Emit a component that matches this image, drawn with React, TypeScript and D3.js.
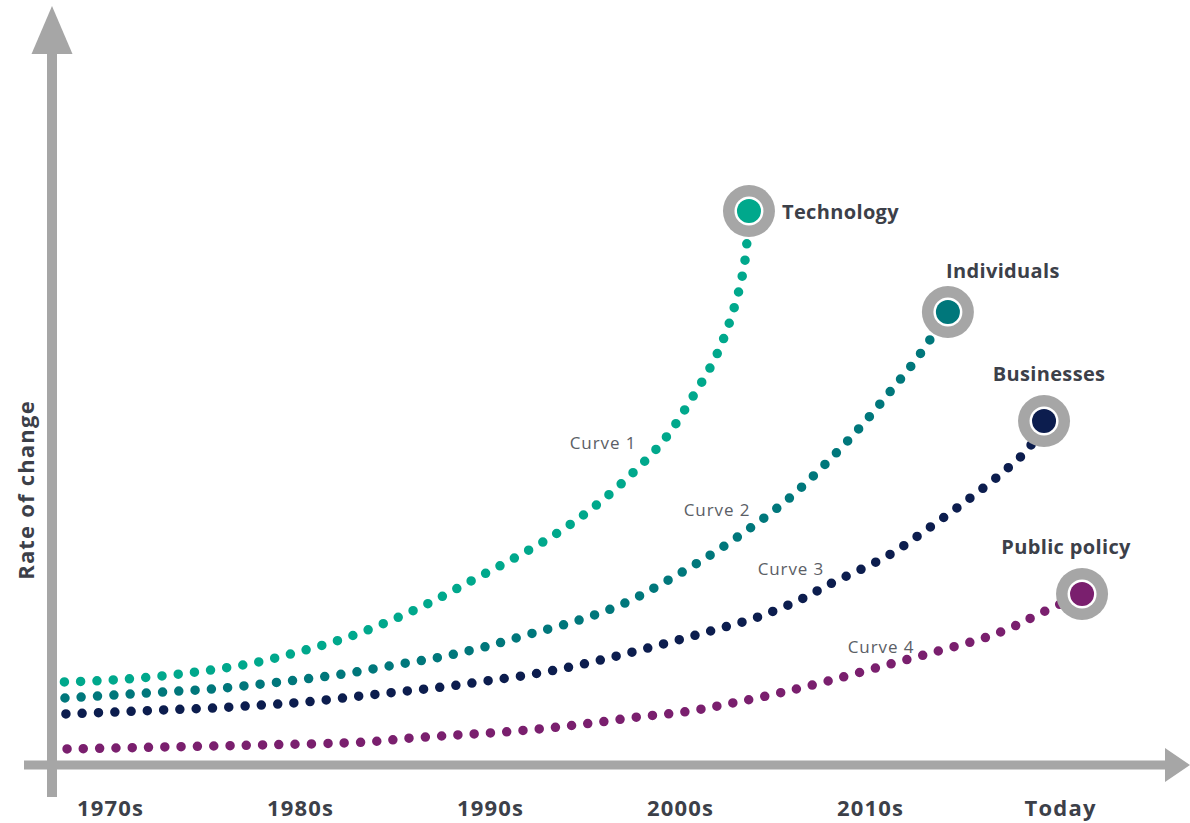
import React from "react";
import * as d3 from "d3";

// ---------- DATA ----------
const categories = ["1970s", "1980s", "1990s", "2000s", "2010s", "Today"];
const seriesNames = ["Technology", "Individuals", "Businesses", "Public policy"];
const curveLabels = ["Curve 1", "Curve 2", "Curve 3", "Curve 4"];

// x: decade index (1970s = 0 … Today = 5); y: rate of change (0–100)
const technology: [number, number][] = [
  [-0.24, 11.86], [0.01, 12.14], [0.27, 12.71], [0.53, 13.57], [0.78, 14.71],
  [1.01, 16.29], [1.24, 18.14], [1.46, 20.43], [1.68, 23.14], [1.9, 26.29],
  [2.11, 29.29], [2.33, 32.71], [2.54, 36.71], [2.74, 41.43], [2.92, 46.57],
  [3.06, 52.29], [3.19, 58.43], [3.28, 64.86], [3.34, 71.71], [3.363, 79.14],
];
const individuals: [number, number][] = [
  [-0.237, 9.57], [0.03, 10.0], [0.28, 10.43], [0.54, 10.86], [0.8, 11.57],
  [1.03, 12.29], [1.26, 13.14], [1.5, 14.29], [1.74, 15.43], [1.97, 16.86],
  [2.21, 18.71], [2.47, 20.71], [2.71, 23.14], [2.93, 26.29], [3.16, 30.0],
  [3.37, 33.86], [3.57, 38.0], [3.76, 42.86], [3.94, 48.0], [4.1, 53.14],
  [4.26, 58.57], [4.41, 64.71],
];
const businesses: [number, number][] = [
  [-0.232, 7.29], [0.03, 7.57], [0.28, 7.86], [0.54, 8.14], [0.8, 8.57],
  [1.03, 9.0], [1.27, 9.71], [1.51, 10.43], [1.75, 11.14], [1.98, 12.0],
  [2.23, 13.0], [2.47, 14.29], [2.71, 15.86], [2.95, 17.57], [3.18, 19.29],
  [3.41, 21.14], [3.64, 23.71], [3.79, 25.86], [4.1, 30.0], [4.31, 33.86],
  [4.52, 38.0], [4.72, 42.29], [4.84, 45.43], [4.916, 49.14],
];
const publicPolicy: [number, number][] = [
  [-0.226, 2.29], [0.03, 2.43], [0.28, 2.57], [0.54, 2.71], [0.8, 2.86],
  [1.35, 3.29], [1.59, 3.86], [1.83, 4.29], [2.07, 4.71], [2.31, 5.29],
  [2.54, 6.0], [2.78, 6.86], [3.02, 7.57], [3.25, 8.71], [3.5, 10.14],
  [3.76, 11.86], [4.05, 14.0], [4.34, 16.14], [4.6, 18.14], [4.75, 19.71],
  [4.9, 21.71], [5.116, 24.43],
];
const seriesData = [technology, individuals, businesses, publicPolicy];
// curve annotation anchors (data units)
const curveLabelAnchors: [number, number][] = [
  [2.595, 46.14], [3.195, 36.43], [3.584, 28.14], [4.058, 17.0],
];

// ---------- STYLE / LAYOUT ----------
const W = 1190;
const H = 823;
const colors = ["#00a88c", "#00777b", "#0c1d4e", "#7a1f6e"];
const axisGray = "#a6a6a6";
const textColor = "#3c4049";
const font = "'Open Sans', 'Noto Sans', sans-serif";
// name label offsets relative to end point (px) and anchor
const nameOffsets: { dx: number; dy: number; anchor: "start" | "middle" }[] = [
  { dx: 33, dy: 0, anchor: "start" },
  { dx: 55, dy: -42, anchor: "middle" },
  { dx: 5, dy: -48, anchor: "middle" },
  { dx: -16, dy: -47, anchor: "middle" },
];

export default function App() {
  const x = d3.scaleLinear().domain([0, 5]).range([110, 1060]);
  const y = d3.scaleLinear().domain([0, 100]).range([765, 65]);
  const line = d3
    .line<[number, number]>()
    .x((d) => x(d[0]))
    .y((d) => y(d[1]))
    .curve(d3.curveCatmullRom.alpha(0.5));

  const axisY = y(0);
  const yAxisX = 52;

  return (
    <svg
      width={W}
      height={H}
      style={{ position: "fixed", left: 0, top: 0, background: "#fff" }}
      fontFamily={font}
    >
      <rect width={W} height={H} fill="#fff" />
      {/* axes */}
      <rect x={yAxisX - 5} y={50} width={10} height={797 - 50} fill={axisGray} />
      <path d={`M${yAxisX},6 L${yAxisX - 20.5},54 L${yAxisX + 20.5},54 Z`} fill={axisGray} />
      <rect x={24} y={axisY - 4.5} width={1166 - 24} height={9} fill={axisGray} />
      <path d={`M1190,${axisY} L1165,${axisY - 17} L1165,${axisY + 17} Z`} fill={axisGray} />

      {/* tick labels */}
      {categories.map((c, i) => (
        <text
          key={c}
          x={x(i) + 0.6}
          y={816}
          textAnchor="middle"
          fontSize={22}
          letterSpacing={1.2}
          fontWeight={700}
          fill={textColor}
        >
          {c}
        </text>
      ))}

      {/* y label */}
      <text
        transform={`translate(25,490) rotate(-90)`}
        textAnchor="middle"
        dominantBaseline="central"
        fontSize={22}
        letterSpacing={1.2}
        fontWeight={700}
        fill={textColor}
      >
        Rate of change
      </text>

      {/* curves */}
      {seriesData.map((d, i) => (
        <path
          key={i}
          d={line(d) || ""}
          fill="none"
          stroke={colors[i]}
          strokeWidth={9.5}
          strokeLinecap="round"
          strokeDasharray="0 16.3"
        />
      ))}

      {/* end markers */}
      {seriesData.map((d, i) => {
        const e = d[d.length - 1];
        const cx = x(e[0]);
        const cy = y(e[1]);
        const o = nameOffsets[i];
        return (
          <g key={i}>
            <circle cx={cx} cy={cy} r={26} fill={axisGray} />
            <circle cx={cx} cy={cy} r={14.5} fill="#fff" />
            <circle cx={cx} cy={cy} r={12} fill={colors[i]} />
            <text
              x={cx + o.dx}
              y={cy + o.dy}
              textAnchor={o.anchor}
              dominantBaseline="central"
              fontSize={20}
              letterSpacing={0.35}
              fontWeight={700}
              fill={textColor}
            >
              {seriesNames[i]}
            </text>
          </g>
        );
      })}

      {/* curve annotations */}
      {curveLabels.map((t, i) => (
        <text
          key={t}
          x={x(curveLabelAnchors[i][0])}
          y={y(curveLabelAnchors[i][1])}
          textAnchor="middle"
          dominantBaseline="central"
          fontSize={17}
          letterSpacing={0.9}
          fill="#5b5e66"
        >
          {t}
        </text>
      ))}
    </svg>
  );
}
